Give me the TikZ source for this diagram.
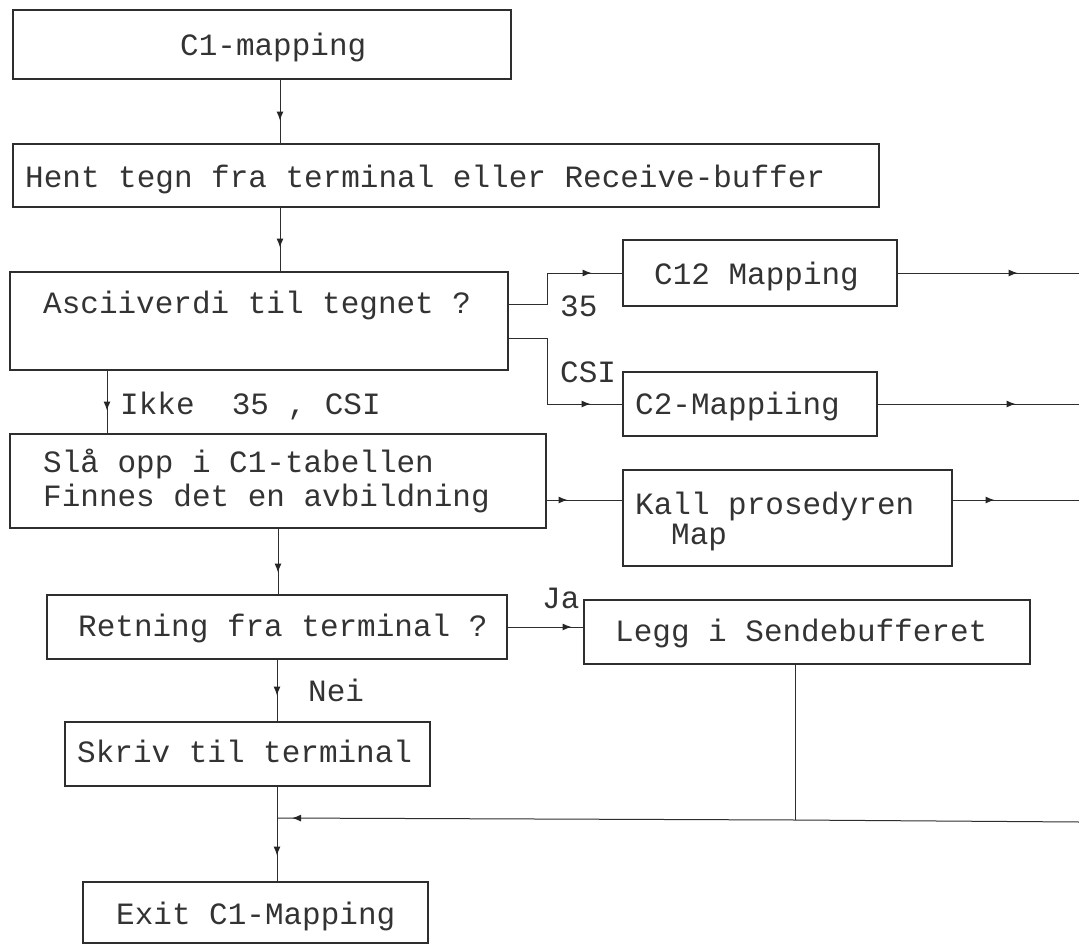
\documentclass[tikz,border=0pt]{standalone}
\usepackage{fontspec}
\newfontfamily\typew{Liberation Mono}
\usetikzlibrary{arrows.meta,decorations.markings}

\tikzset{
  ink/.style={draw=black!82},
  box/.style={ink, line width=1.1pt, inner sep=0pt, rectangle},
  txt/.style={inner sep=0pt, text height=18pt, text depth=0pt, anchor=west,
              font=\typew\fontsize{31}{34}\selectfont, text=black!80},
  conn/.style={ink, line width=1pt},
  arrowat/.style={conn, postaction={decorate},
    decoration={markings, mark=at position #1 with {\arrow[black!85]{Latex[length=9pt,width=7pt]}}}}
}

\begin{document}
\begin{tikzpicture}[x=1pt, y=-1pt]
  \useasboundingbox (0,0) rectangle (1079,944);

  % boxes
  \node[box, minimum width=498pt, minimum height=69pt] (c1)    at (262,44.5) {};
  \node[box, minimum width=866pt, minimum height=63pt] (hent)  at (446,175.5) {};
  \node[box, minimum width=498pt, minimum height=98pt] (asc)   at (259,321) {};
  \node[box, minimum width=274pt, minimum height=66pt] (c12)   at (760,273) {};
  \node[box, minimum width=254pt, minimum height=64pt] (c2)    at (750,404) {};
  \node[box, minimum width=536pt, minimum height=94pt] (sla)   at (278,481) {};
  \node[box, minimum width=329pt, minimum height=96pt] (kall)  at (787.5,518) {};
  \node[box, minimum width=460pt, minimum height=64pt] (ret)   at (277,627) {};
  \node[box, minimum width=446pt, minimum height=64pt] (legg)  at (807,632) {};
  \node[box, minimum width=365pt, minimum height=64pt] (skriv) at (247.5,754) {};
  \node[box, minimum width=345pt, minimum height=61pt] (exit)  at (255.5,912.5) {};

  % box texts
  \node[txt] (c1t)    at (180,47)  {C1-mapping};
  \node[txt] (hentt)  at (25,179)  {Hent tegn fra terminal eller Receive-buffer};
  \node[txt] (asct)   at (43,304)  {Asciiverdi til tegnet ?};
  \node[txt] (c12t)   at (654,275) {C12 Mapping};
  \node[txt] (c2t)    at (635,405) {C2-Mappiing};
  \node[txt] (slat1)  at (43,463)  {Slå opp i C1-tabellen};
  \node[txt] (slat2)  at (43,497)  {Finnes det en avbildning};
  \node[txt] (kallt1) at (635,505) {Kall prosedyren};
  \node[txt] (kallt2) at (671,535) {Map};
  \node[txt] (rett)   at (78,627)  {Retning fra terminal ?};
  \node[txt] (leggt)  at (615,632) {Legg i Sendebufferet};
  \node[txt] (skrivt) at (77,753)  {Skriv til terminal};
  \node[txt] (exitt)  at (116,915) {Exit C1-Mapping};

  % branch labels
  \node[txt] (lnot) at (120,405) {Ikke\ \ 35 , CSI};
  \node[txt] (l35)  at (560,307) {35};
  \node[txt] (lcsi) at (560,373) {CSI};
  \node[txt] (lja)  at (542,599) {Ja};
  \node[txt] (lnei) at (308,692) {Nei};

  % routing coordinates
  \coordinate (xa)   at (280,0);
  \coordinate (xb)   at (107,0);
  \coordinate (xc)   at (278,0);
  \coordinate (xd)   at (277,0);
  \coordinate (r35)  at (547,304);
  \coordinate (rcsi) at (547,338);
  \coordinate (kr)   at (0,500);
  \coordinate (o12)  at (1079,273);
  \coordinate (o2)   at (1079,404);
  \coordinate (ok)   at (1079,500);
  \coordinate (rin)  at (1079,822);
  \coordinate (lj)   at (795,820);
  \coordinate (mj)   at (277,818);

  % main flow
  \draw[arrowat=41pt] (c1.south -| xa) -- (hent.north -| xa);
  \draw[arrowat=40pt] (hent.south -| xa) -- (asc.north -| xa);
  \draw[arrowat=40pt] (asc.south -| xb) -- (sla.north -| xb);
  \draw[arrowat=44pt] (sla.south -| xc) -- (ret.north -| xc);
  \draw[arrowat=36pt] (ret.south -| xd) -- (skriv.north -| xd);
  \draw[arrowat=69pt] (skriv.south -| xd) -- (exit.north -| xd);

  % character branches
  \draw[arrowat=114pt] (asc.east |- r35) -- (r35) |- (c12.west);
  \draw[arrowat=148pt] (asc.east |- rcsi) -- (rcsi) |- (c2.west);
  \draw[arrowat=21pt] (sla.east |- kr) -- (kall.west |- kr);
  \draw[arrowat=64pt] (ret.east) -- (legg.west |- ret.east);

  % exits to the right
  \draw[arrowat=120pt] (c12.east) -- (o12);
  \draw[arrowat=138pt] (c2.east) -- (o2);
  \draw[arrowat=42pt] (kall.east |- kr) -- (ok);

  % return path
  \draw[conn] (rin) -- (lj);
  \draw[conn] (legg.south -| lj) -- (lj);
  \draw[arrowat=503pt] (lj) -- (mj);
\end{tikzpicture}
\end{document}
